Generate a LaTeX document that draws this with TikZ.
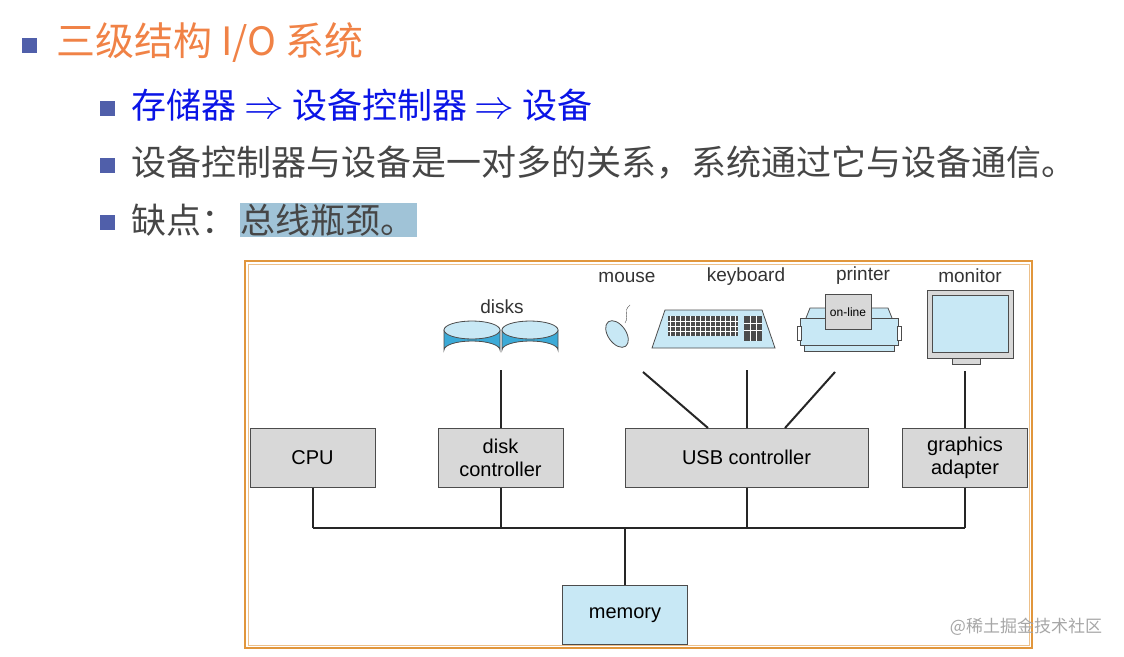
\documentclass[tikz,border=0pt]{standalone}
\usepackage{fontspec}
\setmainfont{Liberation Sans}
\newfontfamily\cjk{Noto Sans CJK SC}
\definecolor{ttl}{RGB}{240,130,70}
\definecolor{bul}{RGB}{80,95,170}
\definecolor{blu}{RGB}{10,20,230}
\definecolor{gtx}{RGB}{70,70,70}
\definecolor{hl}{RGB}{160,195,215}
\definecolor{boxg}{RGB}{216,216,216}
\definecolor{lb}{RGB}{200,232,245}
\definecolor{db}{RGB}{60,170,215}
\definecolor{frm}{RGB}{225,150,60}
\begin{document}
\begin{tikzpicture}[x=1pt,y=-1pt,
  blk/.style={draw=black!70,fill=boxg,line width=1pt,minimum width=125pt,minimum height=59pt,align=center,font=\fontsize{20}{23}\selectfont,inner sep=0pt},
  lbl/.style={font=\fontsize{19}{22}\selectfont,text=black!80},
  bus/.style={line width=2pt,draw=black!85},
  bsq/.style={fill=bul,minimum size=15pt,inner sep=0pt},
  hd/.style={anchor=west,font=\cjk\fontsize{35}{40}\selectfont},
  dev/.style={draw=black!70,fill=lb,line width=0.8pt}]
\useasboundingbox (0,0) rectangle (1124,656);
% header text
\node[bsq] (b1) at (29,45) {};
\node[hd,text=ttl,font=\cjk\fontsize{39}{44}\selectfont] (t1) at (53,43) {三级结构 I/O 系统};
\node[bsq] (b2) at (107,108) {};
\node[hd,text=blu] (t2) at (128,105) {存储器 \scalebox{1.6}{$\Rightarrow$} 设备控制器 \scalebox{1.6}{$\Rightarrow$} 设备};
\node[bsq] (b3) at (107,165) {};
\node[hd,text=gtx] (t3) at (128,163) {设备控制器与设备是一对多的关系，系统通过它与设备通信。};
\node[bsq] (b4) at (107,222) {};
\node[hd,text=gtx,inner sep=3pt] (t4) at (128,220) {缺点：};
\node[hd,text=gtx,fill=hl,inner sep=1pt] (t5) at (t4.east) {总线瓶颈。};
% frame
\draw[frm,line width=1.2pt] (245,261) rectangle (1032,648);
\draw[frm!60,line width=0.8pt] (248,264) rectangle (1029,645);
% boxes
\node[blk] (cpu) at (312.5,457.5) {CPU};
\node[blk] (dc) at (500.5,457.5) {disk\\controller};
\node[blk,minimum width=243pt] (usb) at (746.5,457.5) {USB controller};
\node[blk] (ga) at (965,457.5) {graphics\\adapter};
\node[blk,fill=lb] (mem) at (625,615) {memory};
% bus
\coordinate (bl) at (312.5,528);
\coordinate (br) at (965,528);
\coordinate (bd) at (500.5,528);
\coordinate (bu) at (746.5,528);
\coordinate (bm) at (625,528);
\draw[bus] (bl) -- (br);
\draw[bus] (cpu.south) -- (bl);
\draw[bus] (dc.south) -- (bd);
\draw[bus] (usb.south) -- (bu);
\draw[bus] (ga.south) -- (br);
\draw[bus] (mem.north) -- (bm);
% disks
\foreach \cx in {472,530}{
  \draw[dev,fill=db] (\cx-28,330) -- (\cx-28,350) arc[start angle=180,end angle=360,x radius=28,y radius=9] -- (\cx+28,330) -- cycle;
  \draw[dev] (\cx,330) ellipse[x radius=28,y radius=9];
}
\node[lbl] (ldisk) at (502,307) {disks};
\coordinate (dtop) at (500.5,370);
\draw[bus] (dtop) -- (dc.north);
% mouse
\draw[black!70] (625,323) .. controls (630,315) and (622,312) .. (630,305);
\draw[dev,rotate around={35:(617,334)}] (617,334) ellipse[x radius=9,y radius=15];
\node[lbl] (lmouse) at (627,277) {mouse};
% keyboard
\draw[dev] (652,348) -- (665,310) -- (762,310) -- (775,348) -- cycle;
\fill[black!70] (668,316) rectangle (738,336);
\fill[black!70] (744,316) rectangle (762,341);
\foreach \i in {0,...,13}{\draw[white,line width=0.6pt] (670+\i*5,316) -- (670+\i*5,336);}
\draw[white,line width=0.6pt] (668,321) -- (738,321) (668,326) -- (738,326) (668,331) -- (738,331);
\draw[white,line width=0.6pt] (744,323) -- (762,323) (744,330) -- (762,330) (750,316) -- (750,341) (756,316) -- (756,341);
\node[lbl] (lkey) at (746,277) {keyboard};
% printer
\draw[dev] (806,318) -- (810,308) -- (888,308) -- (892,318);
\draw[dev] (800,318) rectangle (898,345);
\draw[dev] (804,345) rectangle (894,351);
\draw[dev,fill=white] (797,326) rectangle (801,340) (897,326) rectangle (901,340);
\node[draw=black!70,fill=boxg,minimum width=46pt,minimum height=35pt,font=\fontsize{12}{14}\selectfont,inner sep=0pt] (paper) at (848,312) {on-line};
\node[lbl] (lprn) at (863,276) {printer};
% monitor
\draw[draw=black!70,fill=boxg,line width=0.8pt] (927,290) rectangle (1013,358);
\draw[dev] (932,295) rectangle (1008,352);
\draw[draw=black!70,fill=boxg] (952,358) rectangle (980,364);
\node[lbl] (lmon) at (970,276) {monitor};
\coordinate (mbot) at (965,371);
\draw[bus] (mbot) -- (ga.north);
% usb lines
\coordinate (m1) at (643,372);
\coordinate (k1) at (746.5,370);
\coordinate (p1) at (835,372);
\coordinate (u1) at (708,428);
\coordinate (u2) at (746.5,428);
\coordinate (u3) at (785,428);
\draw[bus] (m1) -- (u1);
\draw[bus] (k1) -- (u2);
\draw[bus] (p1) -- (u3);
% watermark
\node[text=black!35,font=\cjk\fontsize{17}{19}\selectfont] (wm) at (1026,627) {@稀土掘金技术社区};
\end{tikzpicture}
\end{document}
